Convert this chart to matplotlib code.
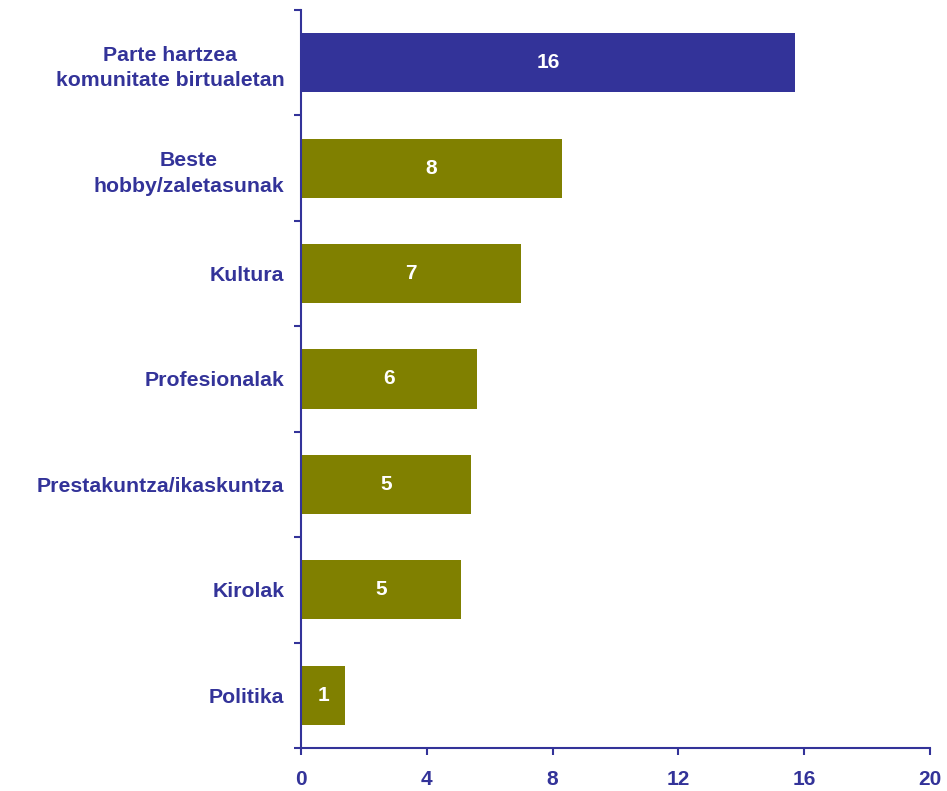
import matplotlib
matplotlib.use("Agg")
import matplotlib.pyplot as plt
import numpy as np

categories = ["Parte hartzea\nkomunitate birtualetan", "Beste\nhobby/zaletasunak", "Kultura",
              "Profesionalak", "Prestakuntza/ikaskuntza", "Kirolak", "Politika"]
values = [15.7, 8.3, 7.0, 5.6, 5.4, 5.1, 1.4]
value_labels = ["16", "8", "7", "6", "5", "5", "1"]
bar_colors = ["#333399", "#808000", "#808000", "#808000", "#808000", "#808000", "#808000"]
x_ticks = [0, 4, 8, 12, 16, 20]

AX = "#333399"
plt.rcParams['font.family'] = ['Liberation Sans', 'DejaVu Sans']

fig = plt.figure(figsize=(9.47, 7.91), dpi=100)
ax = fig.add_axes([301/947, 1-748/791, (930-301)/947, (748-10)/791])

n = len(categories)
y = np.arange(n)
ax.barh(y, values, height=0.56, color=bar_colors, zorder=2)
for yi, v, lab in zip(y, values, value_labels):
    ax.text(v/2, yi, lab, ha='center', va='center', color='white',
            fontsize=15, fontweight='bold', zorder=3)

ax.set_xlim(0, 20)
ax.set_ylim(n-0.5, -0.5)
ax.set_xticks(x_ticks)
ax.set_xticklabels([str(t) for t in x_ticks])
ax.set_yticks(y)
ax.set_yticklabels(categories)
ax.set_yticks(np.arange(n+1)-0.5, minor=True)
for lbl in ax.get_yticklabels():
    lbl.set_multialignment('center')
    lbl.set_linespacing(1.45)

ax.tick_params(axis='y', which='major', length=0, pad=12, labelsize=15.3, labelcolor=AX)
ax.tick_params(axis='y', which='minor', length=5, width=1.5, color=AX, direction='out')
ax.tick_params(axis='x', which='major', length=5, width=1.5, color=AX, direction='out',
               pad=11, labelsize=15, labelcolor=AX)
for lbl in ax.get_xticklabels() + ax.get_yticklabels():
    lbl.set_fontweight('bold')

for s in ['top', 'right']:
    ax.spines[s].set_visible(False)
for s in ['left', 'bottom']:
    ax.spines[s].set_color(AX)
    ax.spines[s].set_linewidth(1.5)

fig.savefig("out.png", dpi=100)
